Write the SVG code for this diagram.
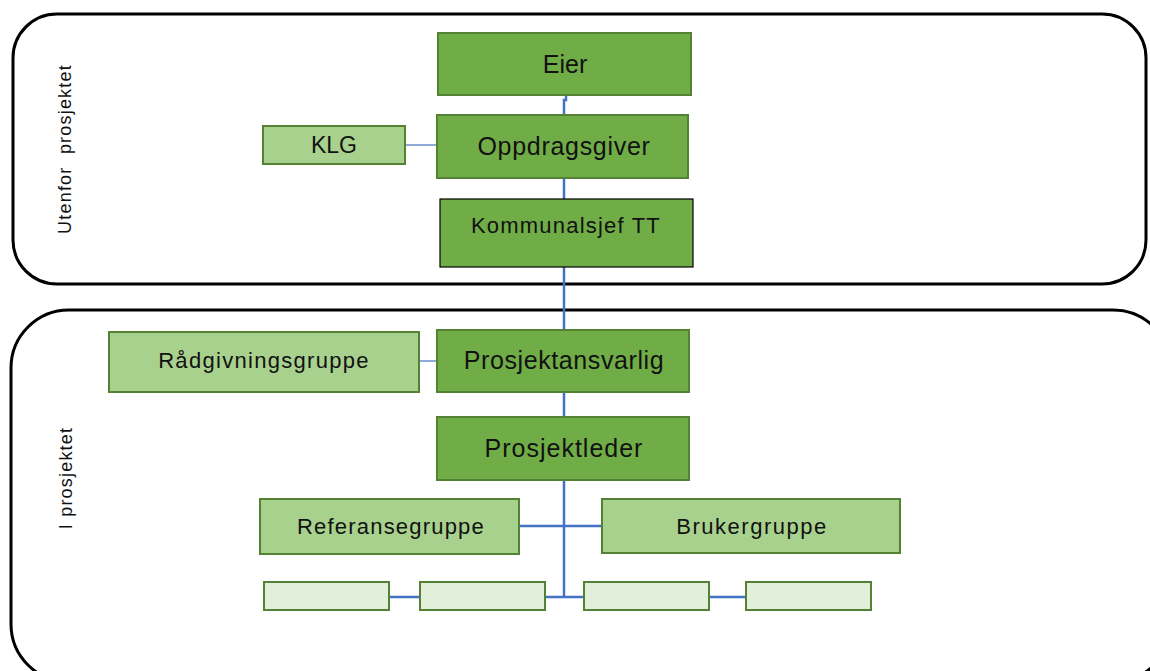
<svg xmlns="http://www.w3.org/2000/svg" width="1150" height="671" viewBox="0 0 1150 671">
  <style>
    .frame { fill: #ffffff; stroke: #000000; stroke-width: 3; }
    .dark { fill: #70AD47; stroke: #548235; stroke-width: 2; }
    .boxed { fill: #70AD47; stroke: #000000; stroke-width: 1.2; }
    .light { fill: #A9D18E; stroke: #548235; stroke-width: 2; }
    .pale { fill: #E2EFDA; stroke: #548235; stroke-width: 2; }
    .lbl { font-family: "Liberation Sans", Arial, sans-serif; fill: #111111; text-anchor: middle; dominant-baseline: central; }
    .side { font-family: "Liberation Sans", Arial, sans-serif; fill: #111111; font-size: 18px; letter-spacing: 1.2px; text-anchor: middle; dominant-baseline: central; }
    .link { stroke: #4472C4; stroke-width: 2.5; fill: none; }
    .thin { stroke: #4472C4; stroke-width: 1.2; fill: none; }
  </style>

  <!-- section frames -->
  <g id="frames">
    <rect class="frame" x="13" y="14" width="1133" height="270" rx="44" ry="44"/>
    <rect class="frame" x="11" y="310" width="1160" height="372" rx="58" ry="58"/>
    <text class="side" transform="translate(65,149) rotate(-90)" xml:space="preserve">Utenfor  prosjektet</text>
    <text class="side" transform="translate(66,478) rotate(-90)">I prosjektet</text>
  </g>

  <!-- connectors -->
  <g id="connectors">
    <polyline class="link" points="566,95 566,100 564,100 564,115"/>
    <line class="link" x1="564" y1="178" x2="564" y2="199"/>
    <line class="link" x1="564" y1="267" x2="564" y2="330"/>
    <line class="link" x1="564" y1="392" x2="564" y2="417"/>
    <line class="link" x1="564" y1="480" x2="564" y2="598"/>
    <line class="link" x1="519" y1="526" x2="602" y2="526"/>
    <line class="link" x1="545" y1="597" x2="584" y2="597"/>
    <line class="link" x1="389" y1="597" x2="420" y2="597"/>
    <line class="link" x1="709" y1="597" x2="746" y2="597"/>
    <line class="thin" x1="405" y1="145" x2="437" y2="145"/>
    <line class="thin" x1="419" y1="361" x2="437" y2="361"/>
  </g>

  <g id="eier">
    <rect class="dark" x="438" y="33" width="253" height="62"/>
    <text class="lbl" x="565" y="64" font-size="25">Eier</text>
  </g>
  <g id="oppdragsgiver">
    <rect class="dark" x="437" y="115" width="251" height="63"/>
    <text class="lbl" x="564" y="146" font-size="25" letter-spacing="0.7">Oppdragsgiver</text>
  </g>
  <g id="klg">
    <rect class="light" x="263" y="126" width="142" height="38"/>
    <text class="lbl" x="334" y="145" font-size="23">KLG</text>
  </g>
  <g id="kommunalsjef">
    <rect class="boxed" x="440" y="199" width="253" height="68"/>
    <text class="lbl" x="566" y="225" font-size="22" letter-spacing="1.2">Kommunalsjef TT</text>
  </g>
  <g id="radgivningsgruppe">
    <rect class="light" x="109" y="332" width="310" height="60"/>
    <text class="lbl" x="264" y="360" font-size="22" letter-spacing="1.3">Rådgivningsgruppe</text>
  </g>
  <g id="prosjektansvarlig">
    <rect class="dark" x="437" y="330" width="252" height="62"/>
    <text class="lbl" x="564" y="360" font-size="25" letter-spacing="0.6">Prosjektansvarlig</text>
  </g>
  <g id="prosjektleder">
    <rect class="dark" x="437" y="417" width="252" height="63"/>
    <text class="lbl" x="564" y="448" font-size="25" letter-spacing="1">Prosjektleder</text>
  </g>
  <g id="referansegruppe">
    <rect class="light" x="260" y="499" width="259" height="55"/>
    <text class="lbl" x="391" y="526" font-size="22" letter-spacing="1.2">Referansegruppe</text>
  </g>
  <g id="brukergruppe">
    <rect class="light" x="602" y="499" width="298" height="54"/>
    <text class="lbl" x="752" y="526" font-size="22" letter-spacing="1.5">Brukergruppe</text>
  </g>
  <g id="sub1"><rect class="pale" x="264" y="582" width="125" height="28"/></g>
  <g id="sub2"><rect class="pale" x="420" y="582" width="125" height="28"/></g>
  <g id="sub3"><rect class="pale" x="584" y="582" width="125" height="28"/></g>
  <g id="sub4"><rect class="pale" x="746" y="582" width="125" height="28"/></g>
</svg>
